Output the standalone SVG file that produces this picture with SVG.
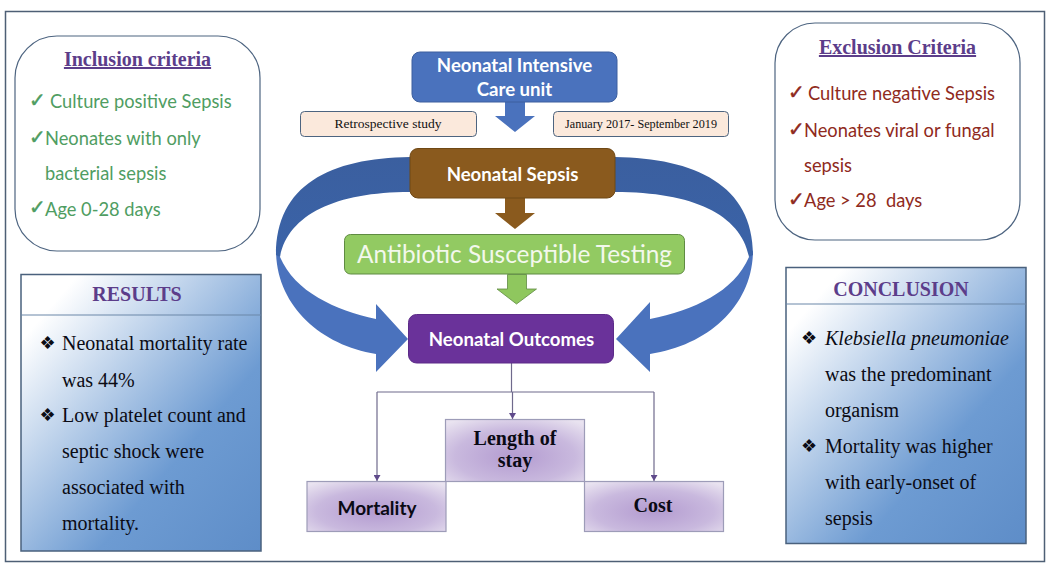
<svg xmlns="http://www.w3.org/2000/svg" width="1052" height="568" viewBox="0 0 1052 568">
<defs>
<linearGradient id="blue" x1="0" y1="0" x2="1" y2="1"><stop offset="0.12" stop-color="#ffffff"/><stop offset="0.66" stop-color="#6d9bd2"/><stop offset="1" stop-color="#5e8dc8"/></linearGradient>
<radialGradient id="purple" cx="0.5" cy="0.6" r="0.72"><stop offset="0" stop-color="#b39bd0"/><stop offset="0.6" stop-color="#c9b9de"/><stop offset="1" stop-color="#e9e3f0"/></radialGradient>
<linearGradient id="curveTop" x1="0" y1="0" x2="0" y2="1"><stop offset="0" stop-color="#3b5f9f"/><stop offset="1" stop-color="#3a63a8"/></linearGradient>
<marker id="tip" markerUnits="userSpaceOnUse" markerWidth="7" markerHeight="7" refX="6" refY="3.5" orient="auto"><path d="M0 0L6 3.500L0 7Z" fill="#5f4a8b"/></marker>
</defs>
<style>
.sans{font-family:"Lato","Liberation Sans",sans-serif}
.serif{font-family:"Liberation Serif","Times New Roman",serif}
.sym{font-family:"DejaVu Sans",sans-serif}
.title{font-size:20px;font-weight:700;fill:#5c3d8a;text-anchor:middle}
.green{font-size:18.300px;fill:#4f9d62;white-space:pre}
.red{font-size:18.300px;fill:#8f2a20;white-space:pre}
.gc{font-size:20px;fill:#4f9d62;stroke:#4f9d62;stroke-width:.5}
.rc{font-size:20px;fill:#8f2a20;stroke:#8f2a20;stroke-width:.5}
.body{font-size:20px;fill:#0b0b14}
.dia{font-size:18px;fill:#0b0b14}
.white{font-size:18.600px;font-weight:700;fill:#fff;text-anchor:middle}
.tag{font-size:13.500px;fill:#111;text-anchor:middle}
.tag2{font-size:12.200px;fill:#111;text-anchor:middle}
.card{fill:#fff;stroke:#4d6480;stroke-width:1.2}
.panel{fill:url(#blue);stroke:#4a617d;stroke-width:1.5}
.pbox{fill:url(#purple);stroke:#9d9cb8;stroke-width:1.2}
.big{font-size:20px;font-weight:700;fill:#0a0a14;text-anchor:middle}
.tagbox{fill:#fbe9dc;stroke:#4d6480;stroke-width:1}
.link{fill:none;stroke:#6f6a8c;stroke-width:1.2}
</style>
<rect width="1052" height="568" fill="#fff"/>
<rect x="5.500" y="11.500" width="1039" height="550" fill="none" stroke="#4e5f75" stroke-width="1.500"/>

<g id="connectors">
<path d="M276 250C276 305 320 345 376 354L376 372L408 339L376 304L376 319C335 310 295 292 280 257Z" fill="#4a72bd"/>
<path d="M753 250C753 305 709 345 650 354L650 372L616 339L650 302L650 319C694 310 734 292 749 257Z" fill="#4a72bd"/>
<path d="M410 157C330 158 276 185 276 255L280 257C288 215 335 192 410 192Z" fill="url(#curveTop)"/>
<path d="M615 157C695 158 753 185 753 255L749 257C741 215 694 192 615 192Z" fill="url(#curveTop)"/>
<path d="M505 102H525V116H535L515 132L495 116H505Z" fill="#4a72bd"/>
<path d="M505 198H525V213H535L515 229L495 213H505Z" fill="#8a5a1e"/>
<path d="M507.500 274.500H526.500V289H536.500L516.500 304L497 289H507.500Z" fill="#8fc75e" stroke="#5f8b42" stroke-width="0.800"/>
<path class="link" d="M511.500 363V392"/>
<path class="link" d="M377 392H654"/>
<path class="link" d="M377 392V481" marker-end="url(#tip)"/>
<path class="link" d="M512.500 392V419" marker-end="url(#tip)"/>
<path class="link" d="M654 392V481" marker-end="url(#tip)"/>
</g>

<g id="inclusion">
<rect class="card" x="15" y="36" width="245" height="215" rx="42"/>
<text class="serif title" x="137.500" y="66" text-decoration="underline">Inclusion criteria</text>
<text class="sym gc" x="29" y="107">✓</text><text class="sans green" x="50" y="108">Culture positive Sepsis</text>
<text class="sym gc" x="29" y="144">✓</text><text class="sans green" x="45" y="145">Neonates with only</text>
<text class="sans green" x="45" y="180">bacterial sepsis</text>
<text class="sym gc" x="29" y="214">✓</text><text class="sans green" x="45" y="216">Age 0-28 days</text>
</g>

<g id="exclusion">
<rect class="card" x="775" y="23" width="245" height="217" rx="40"/>
<text class="serif title" x="897.500" y="54" text-decoration="underline">Exclusion Criteria</text>
<text class="sym rc" x="788" y="99">✓</text><text class="sans red" x="808" y="100">Culture negative Sepsis</text>
<text class="sym rc" x="788" y="136">✓</text><text class="sans red" x="804" y="137">Neonates viral or fungal</text>
<text class="sans red" x="804" y="172">sepsis</text>
<text class="sym rc" x="788" y="206">✓</text><text class="sans red" x="804" y="207">Age &gt; 28  days</text>
</g>

<g id="results">
<rect class="panel" x="21" y="274.500" width="240" height="276.500"/>
<path d="M21 315H261" stroke="#6b87a8" stroke-width="1"/>
<text class="serif title" x="137" y="301">RESULTS</text>
<text class="sym dia" x="39.500" y="349">❖</text><text class="serif body" x="62" y="350">Neonatal mortality rate</text>
<text class="serif body" x="62" y="387">was 44%</text>
<text class="sym dia" x="39.500" y="421">❖</text><text class="serif body" x="62" y="422">Low platelet count and</text>
<text class="serif body" x="62" y="458">septic shock were</text>
<text class="serif body" x="62" y="494">associated with</text>
<text class="serif body" x="62" y="530">mortality.</text>
</g>

<g id="conclusion">
<rect class="panel" x="786" y="267.500" width="240" height="276"/>
<path d="M786 304H1026" stroke="#6b87a8" stroke-width="1"/>
<text class="serif title" x="901" y="296">CONCLUSION</text>
<text class="sym dia" x="801" y="344">❖</text><text class="serif body" x="825" y="345" font-style="italic">Klebsiella pneumoniae</text>
<text class="serif body" x="825" y="381">was the predominant</text>
<text class="serif body" x="825" y="417">organism</text>
<text class="sym dia" x="801" y="452">❖</text><text class="serif body" x="825" y="453">Mortality was higher</text>
<text class="serif body" x="825" y="489">with early-onset of</text>
<text class="serif body" x="825" y="525">sepsis</text>
</g>

<g id="nicu">
<rect x="412" y="52" width="205" height="50" rx="8" fill="#4a72bd" stroke="#3d5f9e"/>
<text class="sans white" x="514.500" y="72">Neonatal Intensive</text>
<text class="sans white" x="514.500" y="96">Care unit</text>
</g>
<g id="retrospective">
<rect class="tagbox" x="300.500" y="111.500" width="176" height="25" rx="4"/>
<text class="serif tag" x="388" y="128">Retrospective study</text>
</g>
<g id="period">
<rect class="tagbox" x="553.500" y="111.500" width="175" height="25" rx="4"/>
<text class="serif tag2" x="641" y="128">January 2017- September 2019</text>
</g>
<g id="sepsis">
<rect x="410" y="148.500" width="205" height="49.500" rx="8" fill="#8a5a1e" stroke="#6f4815"/>
<text class="sans white" x="512.500" y="181">Neonatal Sepsis</text>
</g>
<g id="ast">
<rect x="344.500" y="234.500" width="340" height="39.500" rx="6" fill="#92ca62" stroke="#5f8b42"/>
<text class="sans" x="514.500" y="263" font-size="24.400" fill="#f3f8ec" text-anchor="middle">Antibiotic Susceptible Testing</text>
</g>
<g id="outcomes">
<rect x="408.500" y="314.500" width="205" height="48.500" rx="8" fill="#6a329a" stroke="#5c2b88"/>
<text class="sans white" x="511.500" y="346">Neonatal Outcomes</text>
</g>
<g id="length">
<rect class="pbox" x="445.500" y="419.500" width="139" height="62"/>
<text class="serif big" x="515" y="445">Length of</text>
<text class="serif big" x="515" y="467">stay</text>
</g>
<g id="mortality">
<rect class="pbox" x="307" y="481.500" width="139" height="50"/>
<text class="sans big" style="font-size:19px" x="377" y="515">Mortality</text>
</g>
<g id="cost">
<rect class="pbox" x="584.500" y="481.500" width="139" height="50"/>
<text class="serif big" x="653" y="512">Cost</text>
</g>
</svg>
